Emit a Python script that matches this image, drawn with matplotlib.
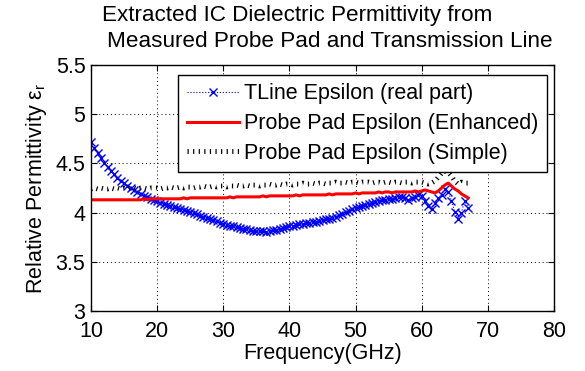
import numpy as np
import matplotlib
matplotlib.use('Agg')
import matplotlib.pyplot as plt

plt.rcParams['font.family'] = ['Liberation Sans', 'DejaVu Sans']

# frequency points (GHz)
freq = np.arange(10.0, 67.01, 0.5)

# TLine epsilon (real part)
tline_eps = [
    4.72, 4.66, 4.61, 4.55, 4.50, 4.46, 4.42, 4.39, 4.35, 4.32,
    4.30, 4.27, 4.25, 4.23, 4.21, 4.19, 4.17, 4.16, 4.14, 4.13,
    4.12, 4.10, 4.09, 4.08, 4.07, 4.06, 4.05, 4.04, 4.03, 4.02,
    4.01, 4.00, 3.99, 3.97, 3.96, 3.95, 3.93, 3.92, 3.91, 3.89,
    3.88, 3.87, 3.86, 3.86, 3.85, 3.84, 3.83, 3.83, 3.82, 3.81,
    3.81, 3.81, 3.81, 3.80, 3.81, 3.82, 3.82, 3.83, 3.84, 3.85,
    3.86, 3.86, 3.87, 3.88, 3.88, 3.89, 3.89, 3.90, 3.90, 3.91,
    3.92, 3.93, 3.94, 3.95, 3.96, 3.98, 3.99, 4.01, 4.02, 4.04,
    4.05, 4.06, 4.07, 4.08, 4.09, 4.10, 4.11, 4.12, 4.13, 4.13,
    4.14, 4.14, 4.15, 4.16, 4.16, 4.15, 4.13, 4.15, 4.16, 4.18,
    4.17, 4.12, 4.07, 4.04, 4.10, 4.15, 4.18, 4.24, 4.21, 4.12,
    4.01, 3.93, 4.00, 4.12, 4.05,
]

# probe pad epsilon (enhanced)
pad_enh = [
    4.13, 4.13, 4.13, 4.13, 4.13, 4.13, 4.13, 4.13, 4.13, 4.13,
    4.13, 4.13, 4.13, 4.13, 4.13, 4.13, 4.14, 4.13, 4.14, 4.14,
    4.14, 4.14, 4.14, 4.14, 4.14, 4.14, 4.14, 4.14, 4.15, 4.14,
    4.15, 4.15, 4.15, 4.15, 4.15, 4.15, 4.15, 4.15, 4.15, 4.15,
    4.15, 4.15, 4.16, 4.15, 4.16, 4.16, 4.16, 4.16, 4.16, 4.16,
    4.16, 4.16, 4.17, 4.16, 4.17, 4.17, 4.17, 4.17, 4.17, 4.17,
    4.17, 4.17, 4.18, 4.17, 4.18, 4.18, 4.18, 4.18, 4.18, 4.18,
    4.18, 4.18, 4.19, 4.18, 4.19, 4.19, 4.19, 4.19, 4.19, 4.19,
    4.20, 4.19, 4.20, 4.20, 4.20, 4.20, 4.20, 4.21, 4.20, 4.21,
    4.21, 4.20, 4.21, 4.21, 4.21, 4.21, 4.21, 4.21, 4.22, 4.21,
    4.22, 4.23, 4.22, 4.21, 4.20, 4.22, 4.25, 4.28, 4.30, 4.27,
    4.24, 4.22, 4.19, 4.17, 4.15,
]

# probe pad epsilon (simple)
pad_simple = [
    4.24, 4.25, 4.24, 4.25, 4.24, 4.24, 4.25, 4.24, 4.25, 4.24,
    4.25, 4.24, 4.25, 4.25, 4.24, 4.25, 4.25, 4.24, 4.25, 4.25,
    4.25, 4.24, 4.25, 4.25, 4.26, 4.25, 4.25, 4.26, 4.25, 4.26,
    4.26, 4.25, 4.26, 4.26, 4.27, 4.26, 4.26, 4.27, 4.26, 4.27,
    4.27, 4.26, 4.27, 4.27, 4.28, 4.27, 4.27, 4.28, 4.27, 4.28,
    4.28, 4.27, 4.28, 4.28, 4.29, 4.28, 4.28, 4.29, 4.28, 4.29,
    4.29, 4.28, 4.29, 4.29, 4.30, 4.29, 4.29, 4.30, 4.29, 4.30,
    4.30, 4.29, 4.30, 4.30, 4.31, 4.30, 4.30, 4.31, 4.30, 4.31,
    4.31, 4.30, 4.31, 4.31, 4.31, 4.30, 4.31, 4.31, 4.30, 4.31,
    4.31, 4.30, 4.31, 4.31, 4.30, 4.31, 4.31, 4.30, 4.31, 4.31,
    4.31, 4.30, 4.29, 4.30, 4.32, 4.36, 4.40, 4.42, 4.41, 4.37,
    4.32, 4.29, 4.31, 4.30, 4.30,
]

labels = ['TLine Epsilon (real part)', 'Probe Pad Epsilon (Enhanced)',
          'Probe Pad Epsilon (Simple)']

fig = plt.figure(figsize=(5.85, 3.71), dpi=100)
ax = fig.add_axes([91 / 585, 1 - 311 / 371, 463 / 585, 246 / 371])

ax.plot(freq, tline_eps, color='blue', linestyle=':', linewidth=0.8,
        marker='x', markersize=6, markeredgewidth=1.0, label=labels[0])
ax.plot(freq, pad_enh, color='red', linewidth=2.2, label=labels[1])
ax.plot(freq, pad_simple, color='black', linewidth=3.5,
        dashes=(0.25, 0.9), dash_capstyle='butt', label=labels[2])

ax.set_xlim(10, 80)
ax.set_ylim(3, 5.5)
ax.set_xticks(np.arange(10, 81, 10))
ax.set_yticks([3, 3.5, 4, 4.5, 5, 5.5])
ax.set_yticklabels(['3', '3.5', '4', '4.5', '5', '5.5'])
ax.tick_params(direction='in', length=4, width=0.8, labelsize=15.5,
               top=True, right=True)
ax.tick_params(axis='x', pad=7)
ax.tick_params(axis='y', pad=4)
ax.grid(True, color='black', linestyle=(0, (1, 3)), linewidth=0.7)
for s in ax.spines.values():
    s.set_linewidth(1.0)

ax.set_xlabel('Frequency(GHz)', fontsize=15.5, labelpad=1)
ax.set_ylabel('Relative Permittivity $\\mathregular{ε_r}$', fontsize=15.5,
              labelpad=5)

leg = ax.legend(loc='upper right', bbox_to_anchor=(0.985, 0.96),
                borderaxespad=0, fontsize=15.5, numpoints=1,
                handlelength=2.4, handletextpad=0.25, labelspacing=0.4,
                borderpad=0.4, fancybox=False, framealpha=1,
                edgecolor='black')
leg.get_frame().set_linewidth(1.0)

fig.text(102 / 585, 1 - 21 / 371, 'Extracted IC Dielectric Permittivity from',
         fontsize=16.2, ha='left', va='baseline')
fig.text(107 / 585, 1 - 47 / 371, 'Measured Probe Pad and Transmission Line',
         fontsize=16.2, ha='left', va='baseline')

fig.savefig('out.png', dpi=100)
